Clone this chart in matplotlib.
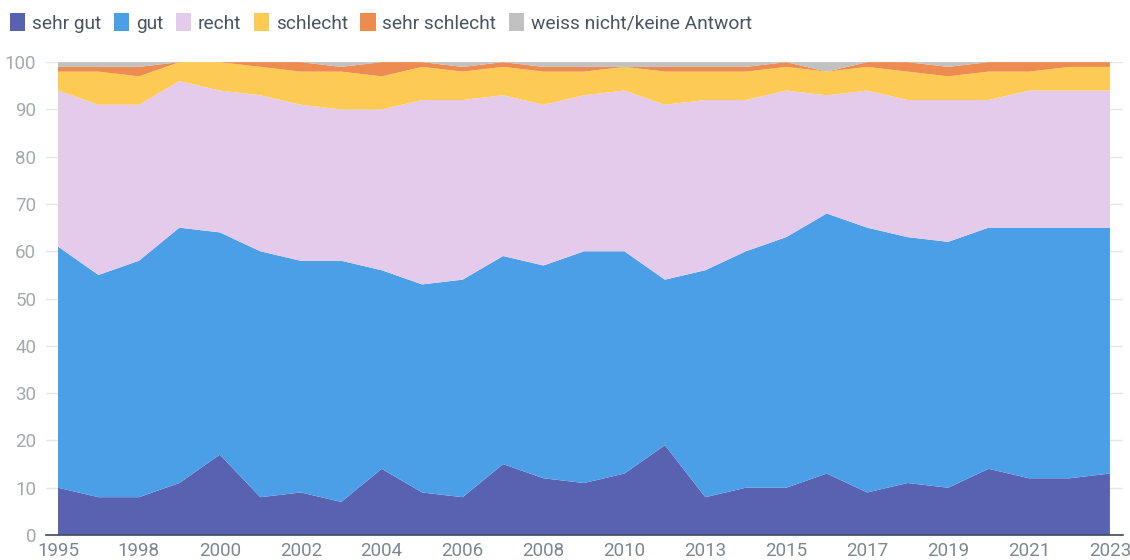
import matplotlib.pyplot as plt
from matplotlib.patches import Patch
import numpy as np

# survey years (one point per survey)
years = [1995, 1997, 1998, 1999, 2000, 2001, 2002, 2003, 2004, 2005, 2006,
         2007, 2008, 2009, 2010, 2012, 2013, 2014, 2015, 2016, 2017, 2018,
         2019, 2020, 2021, 2022, 2023]

labels = ['sehr gut', 'gut', 'recht', 'schlecht', 'sehr schlecht',
          'weiss nicht/keine Antwort']

sehr_gut = [10, 8, 8, 11, 17, 8, 9, 7, 14, 9, 8, 15, 12, 11, 13, 19, 8, 10,
            10, 13, 9, 11, 10, 14, 12, 12, 13]
gut = [51, 47, 50, 54, 47, 52, 49, 51, 42, 44, 46, 44, 45, 49, 47, 35, 48,
       50, 53, 55, 56, 52, 52, 51, 53, 53, 52]
recht = [33, 36, 33, 31, 30, 33, 33, 32, 34, 39, 38, 34, 34, 33, 34, 37, 36,
         32, 31, 25, 29, 29, 30, 27, 29, 29, 29]
schlecht = [4, 7, 6, 4, 6, 6, 7, 8, 7, 7, 6, 6, 7, 5, 5, 7, 6, 6, 5, 5, 5, 6,
            5, 6, 4, 5, 5]
sehr_schlecht = [1, 1, 2, 0, 0, 1, 2, 1, 3, 1, 1, 1, 1, 1, 0, 1, 1, 1, 1, 0,
                 1, 2, 2, 2, 2, 1, 1]
weiss_nicht = [1, 1, 1, 0, 0, 0, 0, 1, 0, 0, 1, 0, 1, 1, 1, 1, 1, 1, 0, 2, 0,
               0, 1, 0, 0, 0, 0]

colors = ['#5961b1', '#4a9fe7', '#e5cbeb', '#fdca54', '#ee8b50', '#c1c1c1']

plt.rcParams['font.family'] = ['Roboto', 'DejaVu Sans']

x = np.arange(len(years))

fig = plt.figure(figsize=(11.3, 5.6), dpi=100)
ax = fig.add_axes([0.0406, 0.0446, 0.9531, 0.8444])

ax.stackplot(x, sehr_gut, gut, recht, schlecht, sehr_schlecht, weiss_nicht,
             colors=colors, linewidth=0, zorder=2)

ax.set_xlim(-0.3, len(years) - 1 + 0.32)
ax.set_ylim(0, 100)
ax.set_yticks(range(0, 101, 10))
ax.grid(axis='y', color='#e6e6e6', linewidth=1, zorder=0)
ax.set_axisbelow(True)

ax.set_xticks(x[::2])
ax.set_xticklabels([str(y) for y in years[::2]])

for s in ['top', 'right', 'left']:
    ax.spines[s].set_visible(False)
ax.spines['bottom'].set_color('#3d4a5a')
ax.spines['bottom'].set_linewidth(1.2)
ax.spines['bottom'].set_zorder(3)

ax.tick_params(axis='y', length=0, pad=7, labelsize=13.5, labelcolor='#a3a9b0')
ax.tick_params(axis='x', length=0, pad=5, labelsize=13.5, labelcolor='#7d8792')

handles = [Patch(facecolor=c, edgecolor='none') for c in colors]
fig.legend(handles, labels, loc='upper left', bbox_to_anchor=(-0.003, 1.0),
           ncol=6, frameon=False, fontsize=13.8, handlelength=0.8,
           handleheight=1.0, handletextpad=0.35, columnspacing=0.65,
           labelcolor='#4a5563', borderaxespad=0.3)

plt.savefig('out.png', dpi=100)
